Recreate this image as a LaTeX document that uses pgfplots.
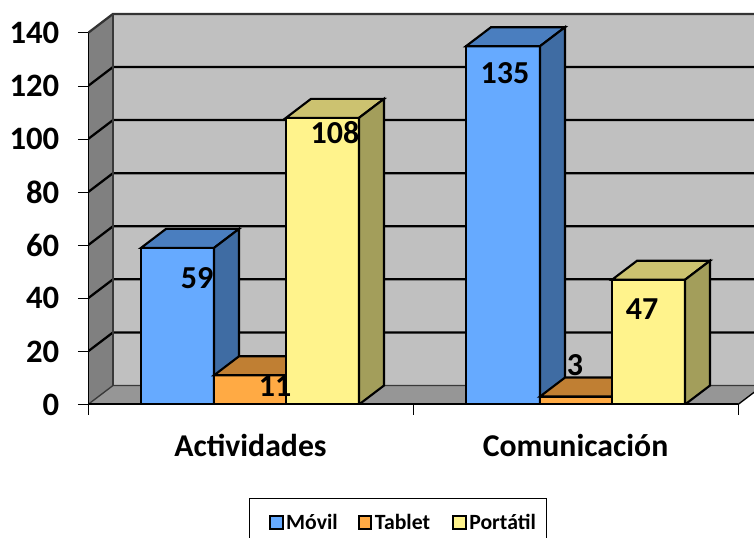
\documentclass[border=0pt]{standalone}
\usepackage{fontspec}
\setmainfont{Carlito}
\usepackage{pgfplots}
\pgfplotsset{compat=1.18}
\definecolor{wall}{HTML}{C0C0C0}
\definecolor{sidew}{HTML}{808080}
\definecolor{floorc}{HTML}{969696}
\definecolor{bluef}{HTML}{66AAFF}
\definecolor{bluet}{HTML}{4A7EBF}
\definecolor{blues}{HTML}{3F6CA3}
\definecolor{orf}{HTML}{FFAA44}
\definecolor{ort}{HTML}{C07F33}
\definecolor{yelf}{HTML}{FFF38C}
\definecolor{yelt}{HTML}{CCC270}
\definecolor{yels}{HTML}{A39E5B}
\pgfplotsset{
  bar/.style={draw=black,line width=1.6pt,line join=miter,forget plot},
  gl/.style={draw=black,line width=1.7pt,forget plot,no markers}
}
\begin{document}
\begin{tikzpicture}
\path[use as bounding box] (0,0) rectangle (565.5pt,402.75pt);
\clip (0,0) rectangle (565.5pt,402.75pt);
\begin{axis}[
  at={(66pt,99.375pt)}, anchor=south west,
  scale only axis, width=499.5pt, height=294.6pt,
  xmin=88, xmax=754, ymin=0, ymax=148,
  axis line style={draw=none},
  axis x line*=bottom, axis y line*=left,
  tick align=outside,
  ytick={0,20,40,60,80,100,120,140},
  xtick={88,413,738},
  xticklabels={,,},
  extra x ticks={250.5,575.5},
  extra x tick labels={Actividades,Comunicación},
  extra x tick style={major tick length=0pt,tick style={draw=none}},
  major tick length=7.5pt,
  x tick style={black,line width=0.7pt},
  y tick style={black,line width=0.7pt},
  yticklabel style={font=\fontsize{24.5}{26}\selectfont\bfseries,/pgf/number format/assume math mode=true,xshift=-10.5pt},
  xticklabel style={font=\fontsize{23.8}{26}\selectfont\bfseries,yshift=-18.8pt},
  legend style={at={(0.2417,-0.238)},anchor=north west,draw=black,line width=0.7pt,
     font=\fontsize{16.3}{19}\selectfont\bfseries,legend columns=3,
     inner xsep=6pt,inner ysep=9.5pt,
     /tikz/column 2/.style={column sep=13pt},
     /tikz/column 4/.style={column sep=14.5pt}},
  legend image code/.code={\draw[#1,line width=1.4pt] (0pt,-4.7pt) rectangle (9.5pt,4.7pt);},
  legend cell align=left,
]
% walls
\addplot[fill=wall,draw=none,forget plot] coordinates {(113,7.16)(763,7.16)(763,147.16)(113,147.16)} --cycle;
\addplot[fill=sidew,draw=none,forget plot] coordinates {(88,0)(113,7.16)(113,147.16)(88,140)} --cycle;
\addplot[fill=floorc,draw=none,forget plot] coordinates {(88,0)(113,7.16)(763,7.16)(738,0)} --cycle;
% gridlines
\addplot[gl,draw=black!60!gray] coordinates {(88,140)(113,147.16)(763,147.16)};
\addplot[gl] coordinates {(88,120)(113,127.16)(763,127.16)};
\addplot[gl] coordinates {(88,100)(113,107.16)(763,107.16)};
\addplot[gl] coordinates {(88,80)(113,87.16)(763,87.16)};
\addplot[gl] coordinates {(88,60)(113,67.16)(763,67.16)};
\addplot[gl] coordinates {(88,40)(113,47.16)(763,47.16)};
\addplot[gl] coordinates {(88,20)(113,27.16)(763,27.16)};
\addplot[gl,draw=black!55!gray,line width=1pt] coordinates {(88,0)(113,7.16)(763,7.16)};
\addplot[gl,draw=black!55!gray,line width=1pt] coordinates {(113,7.16)(113,147.16)};
\addplot[gl,line width=1pt] coordinates {(738,0)(763,7.16)};
% Actividades
\addplot[bar,fill=bluef] coordinates {(141,0)(214,0)(214,59)(141,59)} --cycle;
\addplot[bar,fill=bluet] coordinates {(141,59)(214,59)(239,66.16)(166,66.16)} --cycle;
\addplot[bar,fill=blues] coordinates {(214,0)(239,7.16)(239,66.16)(214,59)} --cycle;
\addplot[bar,fill=orf] coordinates {(214,0)(286,0)(286,11)(214,11)} --cycle;
\addplot[bar,fill=ort] coordinates {(214,11)(286,11)(311,18.16)(239,18.16)} --cycle;
\addplot[bar,fill=yelf] coordinates {(286,0)(359,0)(359,108)(286,108)} --cycle;
\addplot[bar,fill=yelt] coordinates {(286,108)(359,108)(384,115.16)(311,115.16)} --cycle;
\addplot[bar,fill=yels] coordinates {(359,0)(384,7.16)(384,115.16)(359,108)} --cycle;
% Comunicacion
\addplot[bar,fill=bluef] coordinates {(466,0)(540,0)(540,135)(466,135)} --cycle;
\addplot[bar,fill=bluet] coordinates {(466,135)(540,135)(565,142.16)(491,142.16)} --cycle;
\addplot[bar,fill=blues] coordinates {(540,0)(565,7.16)(565,142.16)(540,135)} --cycle;
\addplot[bar,fill=orf] coordinates {(540,0)(612,0)(612,3)(540,3)} --cycle;
\addplot[bar,fill=ort] coordinates {(540,3)(612,3)(637,10.16)(565,10.16)} --cycle;
\addplot[bar,fill=yelf] coordinates {(612,0)(685,0)(685,47)(612,47)} --cycle;
\addplot[bar,fill=yelt] coordinates {(612,47)(685,47)(710,54.16)(637,54.16)} --cycle;
\addplot[bar,fill=yels] coordinates {(685,0)(710,7.16)(710,54.16)(685,47)} --cycle;
% axis lines
\addplot[gl] coordinates {(88,140)(88,0)(738,0)};
% data labels
\addplot[only marks,mark=none,forget plot,point meta=explicit symbolic,
  nodes near coords,
  nodes near coords style={anchor=center,inner sep=0pt,text=black,font=\fontsize{24}{26}\selectfont\bfseries}]
  coordinates {(197,47.7)[59] (275,7)[11] (335,102.3)[108] (505,124.9)[135] (575,15)[3] (642,36)[47]};
% legend
\addlegendimage{legend image code/.code={\path (-9pt,0pt); \draw[fill=bluef,draw=black,line width=1.4pt] (0pt,-4.7pt) rectangle (9.5pt,4.7pt);}}
\addlegendentry{Móvil}
\addlegendimage{fill=orf,draw=black}
\addlegendentry{Tablet}
\addlegendimage{fill=yelf,draw=black}
\addlegendentry{Portátil}
\end{axis}
\end{tikzpicture}
\end{document}
